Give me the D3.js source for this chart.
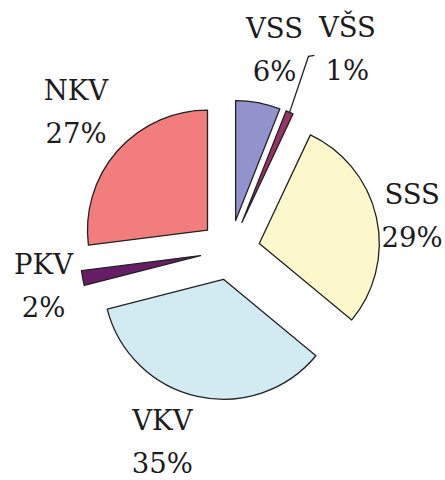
<!DOCTYPE html>
<html>
<head>
<meta charset="utf-8">
<script src="https://cdn.jsdelivr.net/npm/d3@7"></script>
<style>
  body { margin: 0; background: #fff; }
</style>
</head>
<body>
<div id="chart"></div>
<script>
// data
var categories = ['VSS', 'VŠS', 'SSS', 'VKV', 'PKV', 'NKV']
var shares = [6, 1, 29, 35, 2, 27]
var pctLabels = ['6%', '1%', '29%', '35%', '2%', '27%']
var colors = ['#9292cc', '#993366', '#fcf8cc', '#d2eaf1', '#661c66', '#f27d7d']

// layout
var width = 445, height = 480
var cx = 230, cy = 250
var radius = 120, explode = 30
var labelRadius = 200
// nudge of each label away from its mid-angle spot (Excel moved some of them)
var labelShift = [[7, -16], [38, -29], [-13, -2], [-24, -15], [10, -13], [-4, -18]]
var lineGap = 43

var svg = d3.select('#chart')
    .append('svg')
    .attr('width', width)
    .attr('height', height)

var g = svg.append('g')
    .attr('transform', 'translate(' + cx + ',' + cy + ')')

var pie = d3.pie().sort(null).value(d => d)
var arcs = pie(shares)

var arc = d3.arc().innerRadius(0).outerRadius(radius)

function dir(a) {
    return [Math.sin(a), -Math.cos(a)]
}

g.selectAll('path')
    .data(arcs)
    .enter()
    .append('path')
    .attr('d', arc)
    .attr('transform', d => {
        var m = dir((d.startAngle + d.endAngle) / 2)
        return 'translate(' + m[0] * explode + ',' + m[1] * explode + ')'
    })
    .attr('fill', (d, i) => colors[i])
    .attr('stroke', '#222')
    .attr('stroke-width', 1.3)
    .attr('stroke-linejoin', 'round')

var labelPos = arcs.map((d, i) => {
    var m = dir((d.startAngle + d.endAngle) / 2)
    return [m[0] * labelRadius + labelShift[i][0], m[1] * labelRadius + labelShift[i][1]]
})

var labels = g.selectAll('text.lbl')
    .data(arcs)
    .enter()
    .append('text')
    .attr('class', 'lbl')
    .attr('text-anchor', 'middle')
    .attr('font-family', '"DejaVu Serif", serif')
    .attr('font-size', 27.5)
    .attr('fill', '#1c1c1c')

labels.append('tspan')
    .attr('x', (d, i) => labelPos[i][0])
    .attr('y', (d, i) => labelPos[i][1])
    .text((d, i) => categories[i])

labels.append('tspan')
    .attr('x', (d, i) => labelPos[i][0])
    .attr('y', (d, i) => labelPos[i][1] + lineGap)
    .text((d, i) => pctLabels[i])

// leader line for the thin VŠS slice
var k = 1
var a = arcs[k]
var m = dir((a.startAngle + a.endAngle) / 2)
var p0 = [m[0] * (radius + explode), m[1] * (radius + explode)]
var p2 = [labelPos[k][0] - 33, labelPos[k][1] + 18]
var p1 = [p2[0] - 6, p2[1] + 1]

g.append('path')
    .attr('d', d3.line()([p0, p1, p2]))
    .attr('fill', 'none')
    .attr('stroke', '#222')
    .attr('stroke-width', 1.3)
</script>
</body>
</html>
